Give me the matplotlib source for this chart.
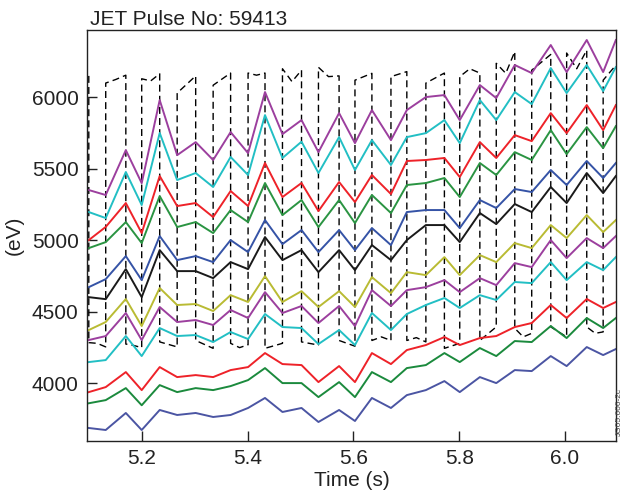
import numpy as np
import matplotlib
matplotlib.use('Agg')
import matplotlib.pyplot as plt

plt.rcParams['font.family'] = ['Liberation Sans', 'DejaVu Sans']

# sample times (s) - taken at the sawtooth crash / recovery times
t = [5.100, 5.132, 5.170, 5.200, 5.234, 5.267, 5.302, 5.335, 5.368, 5.401,
     5.433, 5.466, 5.502, 5.534, 5.573, 5.603, 5.635, 5.671, 5.701, 5.737,
     5.772, 5.801, 5.839, 5.870, 5.905, 5.937, 5.973, 6.003, 6.041, 6.072, 6.096]

# ECE channels, top to bottom (eV)
purple_hi = [5352, 5317, 5631, 5400, 5981, 5596, 5687, 5562, 5757, 5610,
             6037, 5743, 5841, 5617, 5890, 5680, 5911, 5701, 5911, 6002,
             6016, 5841, 6086, 5995, 6226, 6170, 6366, 6177, 6401, 6177, 6401]
cyan_hi = [5198, 5156, 5478, 5247, 5751, 5422, 5471, 5373, 5583, 5457,
           5876, 5576, 5690, 5471, 5722, 5492, 5701, 5527, 5722, 5750,
           5841, 5680, 5981, 5841, 6037, 5953, 6205, 6030, 6226, 6044, 6212]
red_hi = [5002, 5094, 5261, 5051, 5450, 5240, 5261, 5163, 5345, 5240,
          5541, 5303, 5401, 5205, 5408, 5268, 5457, 5324, 5555, 5562,
          5576, 5443, 5687, 5576, 5736, 5694, 5890, 5750, 5946, 5771, 5946]
green_hi = [4946, 4988, 5128, 4981, 5310, 5093, 5128, 5051, 5212, 5128,
            5401, 5177, 5282, 5093, 5282, 5121, 5317, 5191, 5387, 5401,
            5436, 5303, 5541, 5457, 5617, 5562, 5771, 5603, 5792, 5645, 5799]
blue_hi = [4673, 4729, 4890, 4722, 5030, 4862, 4890, 4848, 5002, 4918,
           5142, 4974, 5072, 4918, 5072, 4932, 5086, 4967, 5198, 5212,
           5212, 5086, 5282, 5226, 5359, 5338, 5492, 5387, 5555, 5436, 5541]
black = [4603, 4589, 4799, 4603, 4932, 4785, 4785, 4736, 4848, 4799,
         5023, 4862, 4932, 4778, 4932, 4792, 4967, 4862, 5002, 5107,
         5107, 4988, 5191, 5114, 5254, 5198, 5373, 5261, 5471, 5331, 5450]
olive = [4373, 4429, 4590, 4401, 4667, 4548, 4555, 4506, 4617, 4569,
         4750, 4569, 4645, 4534, 4645, 4534, 4743, 4631, 4778, 4757,
         4883, 4757, 4897, 4848, 4981, 4946, 5107, 5016, 5177, 5058, 5142]
purple_lo = [4303, 4331, 4492, 4303, 4534, 4429, 4443, 4408, 4513, 4457,
             4638, 4492, 4541, 4422, 4541, 4401, 4652, 4541, 4652, 4673,
             4722, 4638, 4736, 4687, 4841, 4813, 5002, 4876, 5016, 4946, 5030]
cyan_lo = [4149, 4163, 4331, 4191, 4387, 4331, 4338, 4289, 4359, 4310,
           4485, 4394, 4387, 4275, 4373, 4268, 4492, 4373, 4485, 4548,
           4597, 4527, 4617, 4583, 4709, 4701, 4848, 4722, 4848, 4792, 4883]
red_lo = [3939, 3974, 4079, 3953, 4114, 4044, 4058, 4044, 4093, 4114,
          4212, 4135, 4128, 4009, 4121, 4009, 4212, 4135, 4233, 4268,
          4324, 4268, 4317, 4331, 4394, 4422, 4548, 4457, 4590, 4527, 4569]
green_lo = [3861, 3883, 3967, 3847, 3988, 3939, 3967, 3953, 3981, 4023,
            4107, 4002, 4002, 3904, 4009, 3904, 4079, 4009, 4107, 4128,
            4212, 4149, 4247, 4191, 4296, 4289, 4401, 4317, 4457, 4387, 4457]
navy = [3688, 3674, 3793, 3674, 3814, 3779, 3793, 3765, 3779, 3828,
        3898, 3800, 3828, 3730, 3814, 3737, 3898, 3828, 3918, 3953,
        4016, 3939, 4044, 4002, 4093, 4086, 4191, 4121, 4254, 4198, 4240]

# dashed trace: core temperature switching between high and low state
saw_t = [5.100, 5.100, 5.116, 5.132, 5.132, 5.151, 5.170, 5.170, 5.185, 5.200,
         5.200, 5.217, 5.234, 5.234, 5.267, 5.267, 5.302, 5.302, 5.335, 5.335,
         5.368, 5.368, 5.385, 5.401, 5.401, 5.417, 5.433, 5.433, 5.466, 5.466,
         5.484, 5.502, 5.502, 5.534, 5.534, 5.553, 5.573, 5.573, 5.603, 5.603,
         5.635, 5.635, 5.653, 5.671, 5.671, 5.701, 5.701, 5.719, 5.737, 5.737,
         5.772, 5.772, 5.801, 5.801, 5.820, 5.839, 5.839, 5.870, 5.870, 5.888,
         5.905, 5.905, 5.921, 5.937, 5.937, 5.973, 5.973, 6.003, 6.003, 6.022,
         6.041, 6.041, 6.057, 6.072, 6.072, 6.096]
saw_v = [6150, 4285, 4280, 4255, 6100, 6125, 6155, 4275, 4265, 4250,
         6130, 6115, 6165, 4290, 4255, 6030, 6150, 4300, 4245, 6085,
         6170, 4280, 4250, 4270, 6170, 6155, 6170, 4245, 4280, 6200,
         6110, 6190, 4290, 4268, 6210, 6145, 6150, 4300, 4260, 6120,
         6168, 4300, 4325, 4300, 6145, 6180, 4300, 4320, 4290, 6100,
         6170, 4245, 4280, 6145, 6200, 6170, 4300, 4395, 6238, 6168,
         6320, 4385, 4325, 4350, 6190, 6300, 4395, 4325, 6310, 6200,
         6330, 4395, 4350, 4360, 6120, 6225]

series = [
    (purple_hi, '#9c3f9e'), (cyan_hi, '#22bfc4'), (red_hi, '#ee2229'),
    (green_hi, '#2a9442'), (blue_hi, '#3553a6'), (black, '#1a1a1a'),
    (olive, '#b9bb33'), (purple_lo, '#9c3f9e'), (cyan_lo, '#22bfc4'),
    (red_lo, '#ee2229'), (green_lo, '#1b8a3d'), (navy, '#4b55a3'),
]

fig = plt.figure(figsize=(6.24, 4.91), dpi=100)
ax = fig.add_axes([0.1394, 0.1018, 0.8478, 0.8371])

ax.plot(saw_t, saw_v, color='black', lw=1.0, dashes=(5, 3))
for vals, col in series:
    ax.plot(t, vals, color=col, lw=1.4)

ax.set_xlim(5.0966, 6.0963)
ax.set_ylim(3597, 6471)
ax.set_xticks([5.2, 5.4, 5.6, 5.8, 6.0])
ax.set_xticklabels(['5.2', '5.4', '5.6', '5.8', '6.0'])
ax.set_yticks([4000, 4500, 5000, 5500, 6000])
ax.tick_params(direction='in', length=7, width=1, labelsize=15, colors='#222222',
               pad=6)
for s in ax.spines.values():
    s.set_linewidth(1.0)
    s.set_color('#222222')

ax.set_xlabel('Time (s)', fontsize=15, color='#222222', labelpad=2)
ax.set_ylabel('(eV)', fontsize=15, color='#222222', labelpad=6)
fig.text(90 / 624, 1 - 25 / 491, 'JET Pulse No: 59413', fontsize=15,
         color='#222222', ha='left', va='baseline')
fig.text(0.998, 1 - 412 / 491, 'JG05.606-2c', fontsize=6, color='#444444',
         rotation=90, ha='right', va='center')

fig.savefig('out.png', dpi=100)
